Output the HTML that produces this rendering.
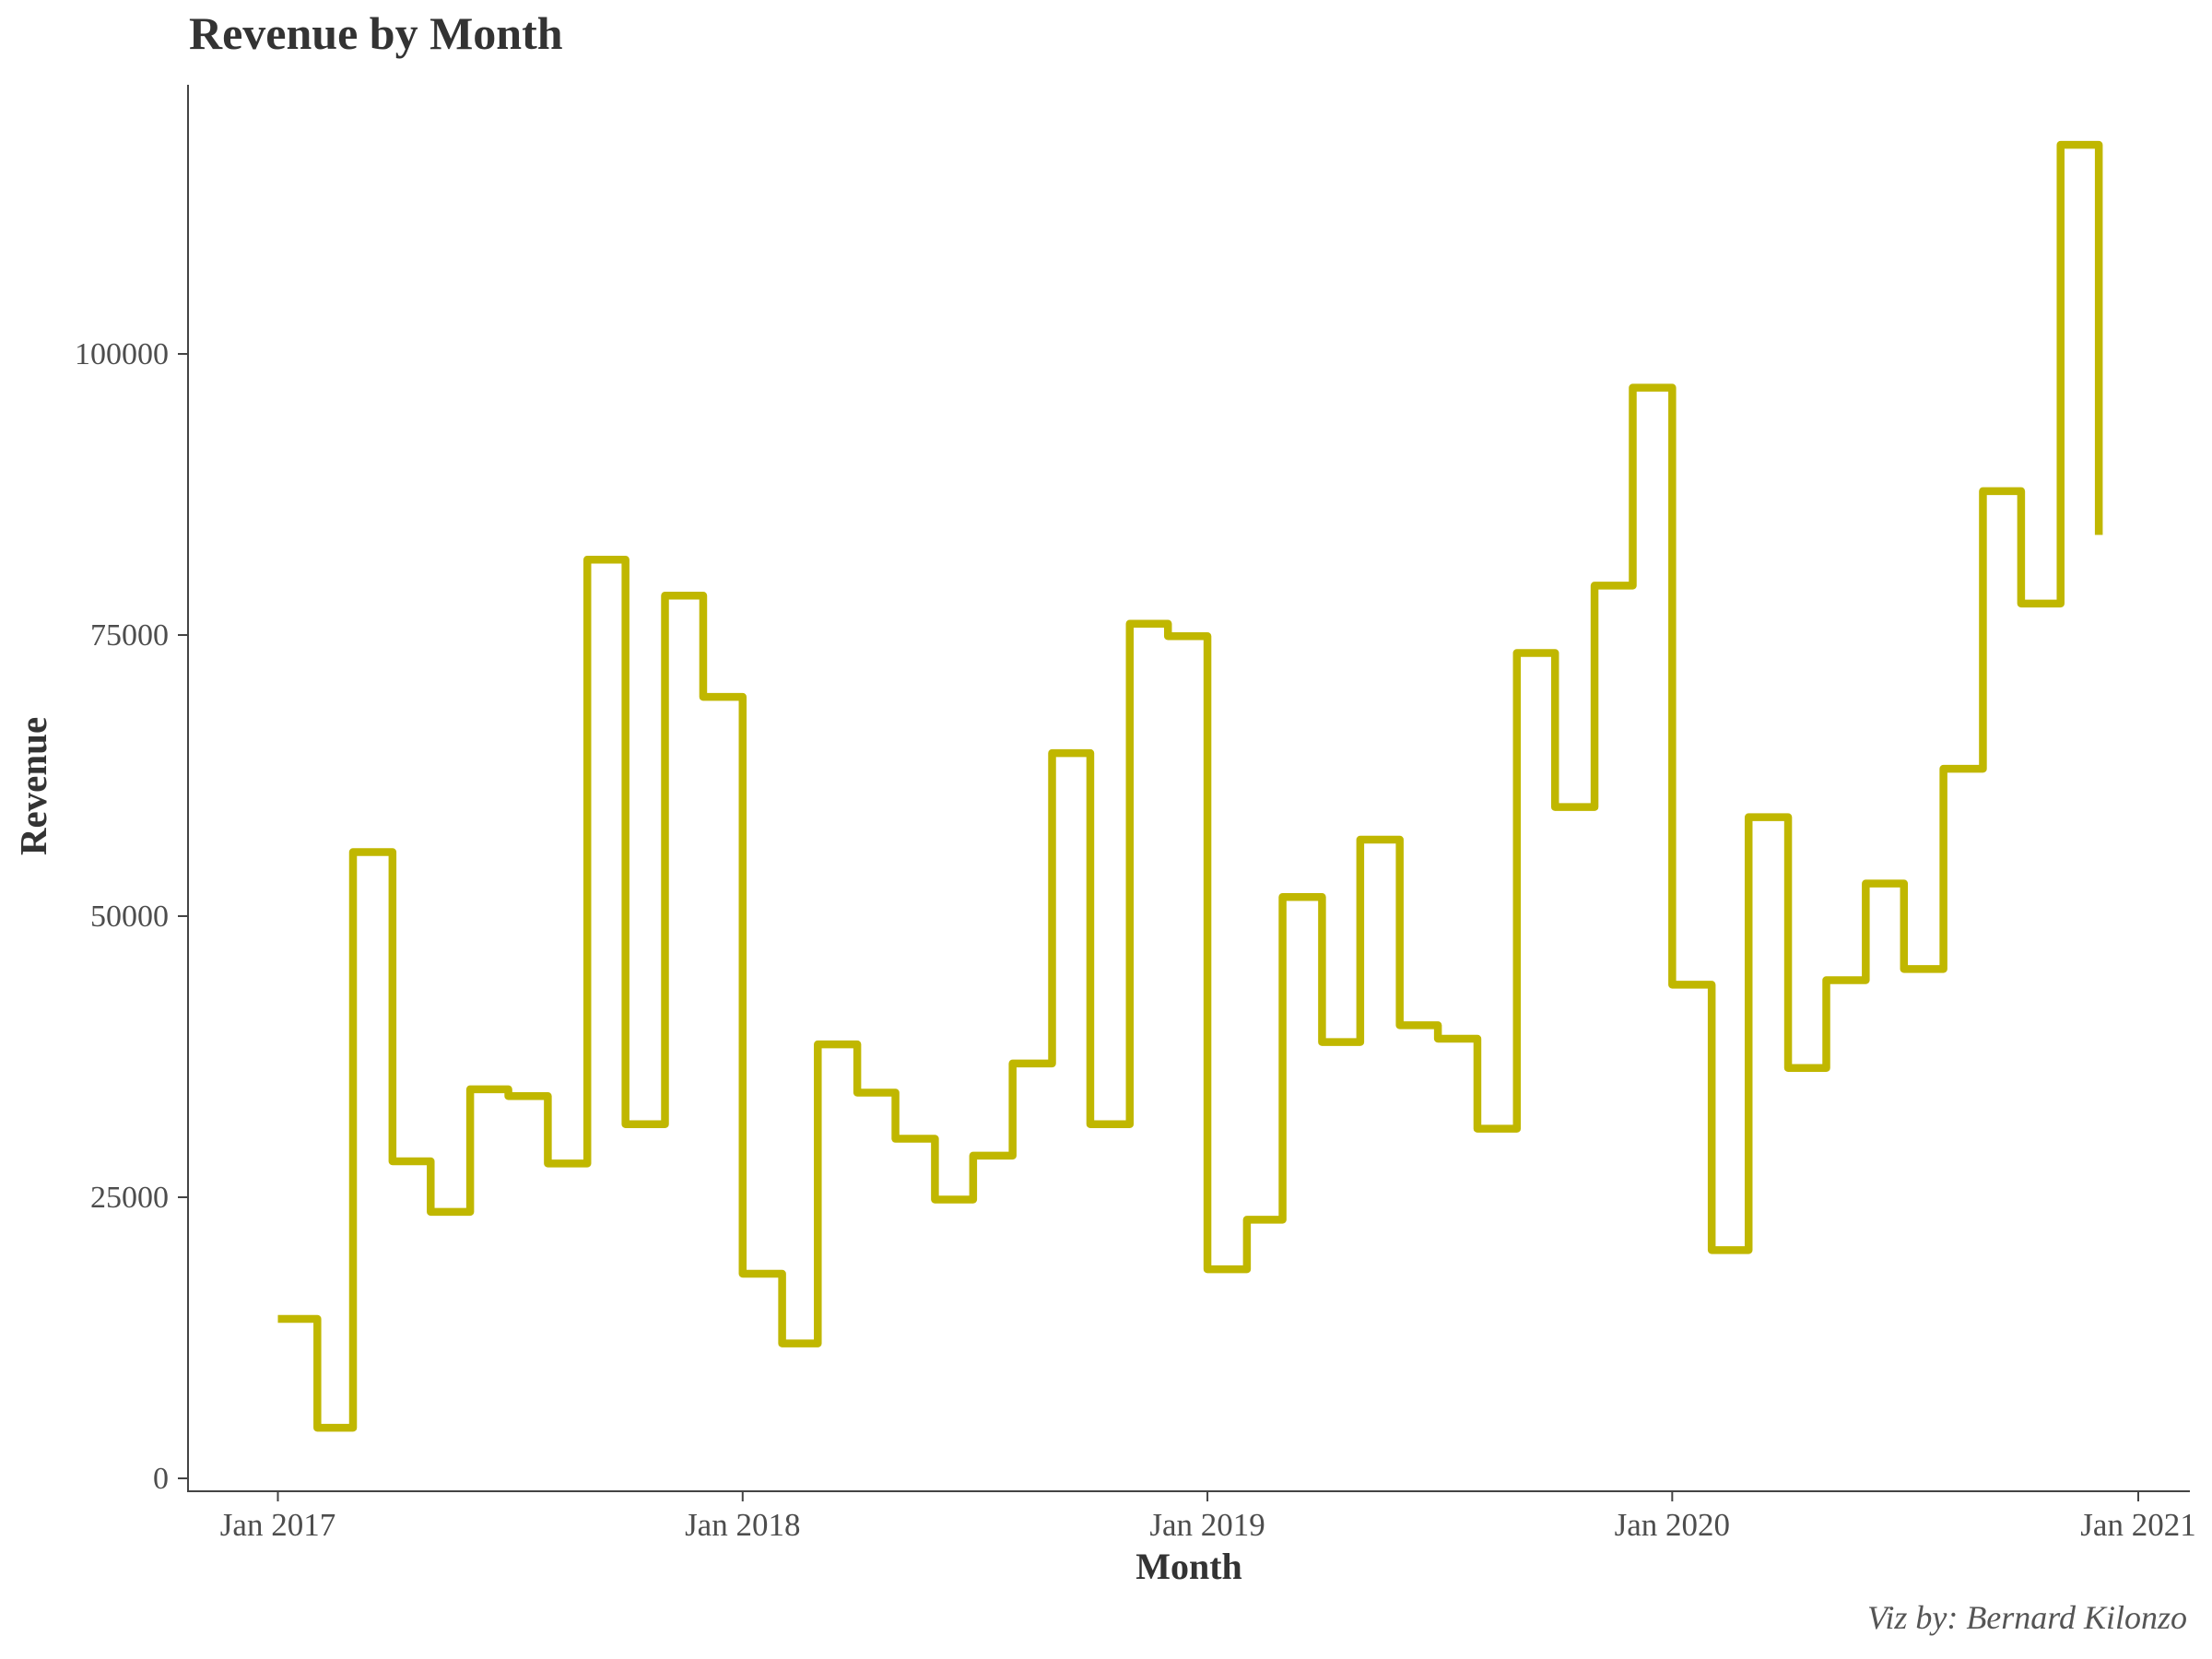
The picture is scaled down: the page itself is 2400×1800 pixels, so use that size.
<!DOCTYPE html>
<html><head><meta charset="utf-8"><style>
html,body{margin:0;padding:0;background:#fff;}
svg{display:block;font-family:"Liberation Serif",serif;}
</style></head><body>
<svg id="chart" width="2400" height="1800" viewBox="0 0 2400 1800">
<text x="205" y="53" font-size="50" font-weight="bold" fill="#333">Revenue by Month</text>
<g id="axes"></g>
<g id="series"></g>
<text x="1290" y="1713" font-size="40" font-weight="bold" fill="#333" text-anchor="middle">Month</text>
<text transform="translate(50,853) rotate(-90)" font-size="41" font-weight="bold" fill="#333" text-anchor="middle">Revenue</text>
<text x="2373" y="1767" font-size="36" font-style="italic" fill="#555" text-anchor="end">Viz by: Bernard Kilonzo</text>
</svg>
<script>
const months = ["2017-01","2017-02","2017-03","2017-04","2017-05","2017-06","2017-07","2017-08","2017-09","2017-10","2017-11","2017-12",
"2018-01","2018-02","2018-03","2018-04","2018-05","2018-06","2018-07","2018-08","2018-09","2018-10","2018-11","2018-12",
"2019-01","2019-02","2019-03","2019-04","2019-05","2019-06","2019-07","2019-08","2019-09","2019-10","2019-11","2019-12",
"2020-01","2020-02","2020-03","2020-04","2020-05","2020-06","2020-07","2020-08","2020-09","2020-10","2020-11","2020-12"];
const revenue = [14180,4500,55700,28200,23700,34600,34000,28000,81700,31500,78500,69500,
18200,12000,38600,34300,30200,24800,28700,36900,64500,31500,76000,74900,
18600,23000,51700,38800,56800,40300,39100,31100,73400,59700,79400,97000,
43900,20300,58800,36500,44300,52900,45300,63100,87800,77800,118600,83900];
const yTicks = [0,25000,50000,75000,100000];
const xTickLabels = ["Jan 2017","Jan 2018","Jan 2019","Jan 2020","Jan 2021"];
const xTickDates = ["2017-01","2018-01","2019-01","2020-01","2021-01"];

const NS="http://www.w3.org/2000/svg";
const t0=Date.UTC(2017,0,1);
function xScale(m){const [y,mo]=m.split("-").map(Number);const d=(Date.UTC(y,mo-1,1)-t0)/86400000;return 301.5+d*(2018.5/1461);}
function yScale(v){return 1604-v*(1220/100000);}
function mk(tag,attrs,parent){const e=document.createElementNS(NS,tag);for(const k in attrs)e.setAttribute(k,attrs[k]);parent.appendChild(e);return e;}
const axes=document.getElementById("axes");
const a1=mk("line",{x1:204,y1:92,x2:204,y2:1618,stroke:"#444","stroke-width":2},axes);


const a2=mk("line",{x1:203,y1:1618,x2:2376,y2:1618,stroke:"#444","stroke-width":2},axes);


yTicks.forEach(v=>{const y=yScale(v);
const tk=mk("line",{x1:193,y1:y,x2:204,y2:y,stroke:"#444","stroke-width":2},axes);


const tx=mk("text",{x:183,y:y+11,"font-size":34,fill:"#4d4d4d","text-anchor":"end"},axes);tx.textContent=v;


});
xTickDates.forEach((m,i)=>{const x=xScale(m);
const tk=mk("line",{x1:x,y1:1618,x2:x,y2:1629,stroke:"#444","stroke-width":2},axes);


const tx=mk("text",{x:x,y:1666,"font-size":35,fill:"#4d4d4d","text-anchor":"middle"},axes);tx.textContent=xTickLabels[i];


});
let d="";
months.forEach((m,i)=>{const x=xScale(m),y=yScale(revenue[i]);
if(i===0)d+="M"+x+","+y;else d+=" H"+x+" V"+y;});
const p=mk("path",{d:d,fill:"none",stroke:"#c0b700","stroke-width":8.5,"stroke-linejoin":"round","stroke-linecap":"butt"},document.getElementById("series"));


</script>
</body></html>
